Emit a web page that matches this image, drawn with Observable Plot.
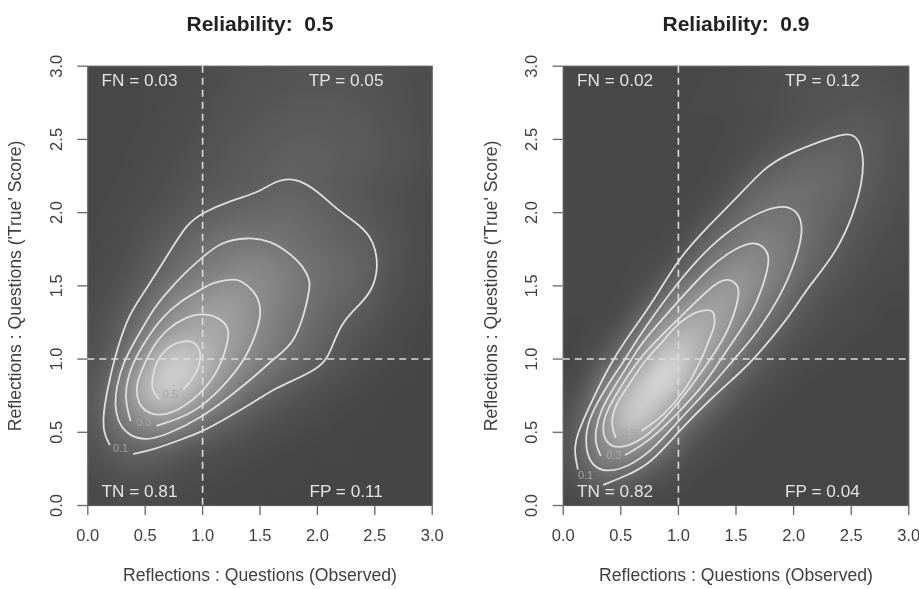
<!DOCTYPE html>
<html>
<head>
<meta charset="utf-8">
<script src="https://cdn.jsdelivr.net/npm/d3@7"></script>
<script src="https://cdn.jsdelivr.net/npm/@observablehq/plot@0.6"></script>
<style>
html,body{margin:0;padding:0;background:#fff}
#fig{position:relative;width:919px;height:589px;overflow:hidden;filter:blur(.4px)}
#fig svg{position:absolute;top:0;overflow:visible}
</style>
</head>
<body>
<div id="fig"></div>
<script>
const gridX = [0,.2,.4,.6,.8,1,1.2,1.4,1.6,1.8,2,2.2,2.4,2.6,2.8,3];
const gridY = [3,2.8,2.6,2.4,2.2,2,1.8,1.6,1.4,1.2,1,.8,.6,.4,.2,0];
const ticks = [0,.5,1,1.5,2,2.5,3];

// observed grey level at each grid node, rows from y = 3 down to y = 0
const greyLeft = [
[72,72,72,73,74,76,78,80,82,84,84,84,82,80,78,76],
[72,72,72,73,75,77,80,83,85,87,87,87,85,82,79,76],
[72,72,72,74,76,79,83,86,89,90,91,90,88,85,80,76],
[72,72,73,75,78,83,87,90,94,96,96,94,91,87,82,77],
[72,72,74,77,81,85,88,92,95,97,94,90,86,82,78,75],
[72,73,76,80,86,95,100,103,106,106,102,94,88,82,77,74],
[72,74,78,90,100,110,118,120,118,110,105,100,98,87,78,74],
[73,76,84,97,110,122,132,138,135,125,112,106,100,86,77,73],
[74,80,92,116,139,152,158,148,132,122,110,101,96,82,75,72],
[75,86,108,135,158,172,168,146,128,115,105,93,84,76,72,70],
[77,92,128,190,222,198,158,138,122,108,97,85,78,73,71,70],
[80,105,165,220,215,170,138,112,100,88,80,75,72,70,69,69],
[80,112,145,165,152,118,100,88,80,76,73,71,70,69,69,69],
[76,95,105,100,88,82,78,75,72,71,70,70,69,69,69,69],
[73,80,82,80,76,73,72,71,70,70,69,69,69,69,69,69],
[71,73,74,73,72,71,70,70,69,69,69,69,69,69,69,69]
];
const greyRight = [
[72,72,72,72,72,72,72,73,75,77,79,80,80,80,78,76],
[72,72,72,72,72,72,73,74,76,78,80,82,84,84,82,80],
[72,72,72,72,72,72,72,72,74,76,80,84,88,90,88,82],
[72,72,72,72,72,72,72,73,76,85,96,102,104,96,85,78],
[72,72,72,72,72,72,72,76,98,106,112,110,104,94,84,78],
[72,72,72,72,72,72,75,96,108,118,116,106,97,88,80,76],
[72,72,72,72,72,75,100,112,130,134,120,105,92,82,77,74],
[72,72,72,72,75,88,118,142,150,132,116,97,85,78,74,73],
[72,72,72,72,93,135,162,170,142,120,98,85,77,74,72,72],
[71,71,72,97,140,185,185,158,120,103,85,78,74,72,71,70],
[70,70,90,130,195,230,172,132,103,84,76,73,71,70,70,70],
[70,80,145,200,240,195,132,98,82,75,72,70,70,70,70,70],
[72,107,165,232,190,122,90,78,73,71,70,70,70,70,70,70],
[75,112,158,150,122,85,75,72,71,70,70,70,70,70,70,70],
[73,100,110,95,80,73,71,70,70,70,70,70,70,70,70,70],
[70,72,74,72,70,70,70,70,70,70,70,70,70,70,70,70]
];

// contours of the left panel, [observed, true]
const leftC1 = [[.401,.353],[.575,.382],[.807,.449],[1,.505],[1.214,.599],[1.446,.706],[1.649,.808],[1.823,.865],[1.998,.934],[2.085,1],[2.143,1.116],[2.215,1.252],[2.375,1.378],[2.477,1.469],[2.535,1.628],[2.491,1.81],[2.375,1.913],[2.172,2.02],[2.027,2.129],[1.882,2.209],[1.751,2.236],[1.62,2.209],[1.475,2.133],[1.243,2.083],[1,2],[.865,1.924],[.72,1.742],[.503,1.469],[.357,1.309],[.241,1.036],[.168,.786],[.131,.603],[.14,.49],[.189,.417]];
const leftC2 = [[.235,.672],[.27,.558],[.357,.478],[.502,.444],[.677,.478],[.996,.603],[1.228,.74],[1.43,.865],[1.635,1.013],[1.794,1.104],[1.896,1.332],[1.934,1.491],[1.934,1.537],[1.882,1.628],[1.765,1.719],[1.591,1.81],[1.388,1.833],[1.156,1.799],[1,1.696],[.836,1.582],[.691,1.457],[.56,1.332],[.415,1.127],[.314,.99],[.247,.808]];
const leftC3 = [[.604,.546],[.793,.592],[.996,.672],[1.228,.854],[1.359,.99],[1.432,1.104],[1.504,1.264],[1.504,1.378],[1.446,1.469],[1.33,1.537],[1.272,1.548],[1.098,1.525],[.996,1.48],[.793,1.389],[.647,1.286],[.502,1.127],[.386,.968],[.328,.808],[.334,.683],[.372,.581]];
const leftC4 = [[.43,.74],[.459,.672],[.546,.622],[.677,.615],[.836,.672],[.996,.774],[1.141,.922],[1.228,1.127],[1.228,1.218],[1.141,1.286],[.996,1.314],[.851,1.286],[.691,1.207],[.56,1.082],[.459,.911],[.421,.808]];
const leftC5 = [[.836,.797],[.909,.865],[.967,.956],[.973,1.059],[.909,1.116],[.807,1.116],[.691,1.07],[.604,.979],[.566,.877],[.566,.797],[.618,.729]];

// contours of the right panel
const rightC1 = [[.353,.143],[.556,.205],[.758,.285],[1.004,.508],[1.279,.729],[1.539,.91],[1.655,1],[1.916,1.241],[2.089,1.446],[2.176,1.537],[2.379,1.742],[2.509,1.969],[2.596,2.197],[2.61,2.379],[2.567,2.505],[2.48,2.55],[2.292,2.505],[1.916,2.391],[1.742,2.3],[1.54,2.129],[1.279,1.924],[1.004,1.69],[.816,1.44],[.671,1.27],[.425,1],[.237,.694],[.121,.49],[.093,.376],[.127,.25]];
const rightC2 = [[.194,.49],[.202,.353],[.266,.262],[.382,.228],[.555,.262],[.758,.364],[1.004,.581],[1.279,.808],[1.496,1.013],[1.655,1.15],[1.887,1.423],[2.031,1.696],[2.089,1.901],[2.031,2.015],[1.916,2.049],[1.771,2.026],[1.54,1.935],[1.279,1.776],[1.004,1.537],[.671,1.173],[.541,1.002],[.353,.785],[.237,.615]];
const rightC3 = [[.541,.346],[.758,.444],[1.004,.638],[1.221,.82],[1.38,1.013],[1.54,1.195],[1.684,1.378],[1.785,1.628],[1.785,1.719],[1.727,1.776],[1.655,1.799],[1.511,1.765],[1.279,1.639],[1.004,1.4],[.671,1.104],[.599,1.002],[.44,.808],[.324,.649],[.28,.512],[.28,.421],[.324,.342]];
const rightC4 = [[.338,.512],[.367,.444],[.425,.398],[.541,.398],[.729,.467],[1.004,.695],[1.293,1.013],[1.438,1.195],[1.539,1.446],[1.51,1.514],[1.438,1.548],[1.336,1.537],[1.004,1.275],[.671,1.025],[.498,.808],[.367,.638]];
const rightC5 = [[.685,.512],[.874,.626],[1.047,.785],[1.192,.99],[1.264,1.127],[1.313,1.241],[1.293,1.325],[1.163,1.321],[1.004,1.241],[.845,1.104],[.715,.99],[.584,.842],[.454,.672],[.425,.558],[.454,.467]];

const quadrantNames = ["FN","TP","TN","FP"];
const quadrantX = [.45,2.25,.45,2.25];
const quadrantY = [2.9,2.9,.095,.095];
const leftRates = ["0.03","0.05","0.81","0.11"];
const rightRates = ["0.02","0.12","0.82","0.04"];

const levelLabels = ["0.1","0.3","0.5"];
const leftLabelX = [.285,.488,.72], leftLabelY = [.387,.565,.758];
const rightLabelX = [.194,.44,.57], rightLabelY = [.205,.342,.49];

function panel(o){
  const cells = o.grey.flatMap((row,r)=>row.map((v,c)=>({x:gridX[c],y:gridY[r],v})));
  const quads = quadrantNames.map((n,i)=>({x:quadrantX[i],y:quadrantY[i],t:`${n} = ${o.rates[i]}`}));
  const labels = levelLabels.map((t,i)=>({t,x:o.labelX[i],y:o.labelY[i]}));
  const ink = "#3f3f3f";
  const lineOf = (pts,curve)=>Plot.line(pts,{x:d=>d[0],y:d=>d[1],curve,stroke:"#dedede",strokeWidth:1.8});
  const svg = Plot.plot({
    width:460,height:589,
    marginLeft:o.ml,marginRight:o.mr,marginTop:65.7,marginBottom:84,
    style:{fontFamily:"'Liberation Sans',Arial,sans-serif",background:"transparent",overflow:"visible"},
    x:{domain:[0,3]},y:{domain:[0,3]},
    color:{type:"linear",domain:[0,255],range:["#000","#fff"]},
    marks:[
      Plot.raster(cells,{x:"x",y:"y",fill:"v",x1:0,x2:3,y1:0,y2:3,interpolate:"barycentric",pixelSize:1,blur:12}),
      Plot.frame({stroke:"#5c5c5c",strokeWidth:1.2}),
      lineOf(o.c[0],"basis"),
      lineOf(o.c[1],"basis-closed"),
      lineOf(o.c[2],"basis"),
      lineOf(o.c[3],"basis-closed"),
      lineOf(o.c[4],"catmull-rom"),
      Plot.ruleX([1],{stroke:"#dcdcdc",strokeWidth:1.6,strokeDasharray:"7 5"}),
      Plot.ruleY([1],{stroke:"#dcdcdc",strokeWidth:1.6,strokeDasharray:"7 5"}),
      Plot.text(quads,{x:"x",y:"y",text:"t",fill:"#e2e2e2",fontSize:17.2}),
      Plot.text(labels,{x:"x",y:"y",text:"t",fill:"#a4a4a4",fontSize:11}),
      Plot.axisX({ticks,tickSize:10,tickPadding:14,stroke:"#666",strokeWidth:1.3,color:ink,fontSize:16.5,tickFormat:d3.format(".1f"),label:null}),
      Plot.axisY({ticks,tickSize:10,tickPadding:16,tickRotate:-90,stroke:"#666",strokeWidth:1.3,color:ink,fontSize:16.5,tickFormat:d3.format(".1f"),label:null}),
      Plot.text(["Reflections : Questions (Observed)"],{frameAnchor:"bottom",dy:75,fill:ink,fontSize:17.6}),
      Plot.text(["Reflections : Questions ('True' Score)"],{frameAnchor:"left",textAnchor:"middle",dx:-72,rotate:-90,fill:ink,fontSize:17.6}),
      Plot.text([o.title],{frameAnchor:"top",dy:-50,fill:"#222",fontWeight:"bold",fontSize:21})
    ]
  });
  svg.style.left = o.left+"px";
  document.getElementById("fig").appendChild(svg);
}

panel({title:"Reliability:  0.5",left:0,ml:87.3,mr:28.3,grey:greyLeft,rates:leftRates,labelX:leftLabelX,labelY:leftLabelY,c:[leftC1,leftC2,leftC3,leftC4,leftC5]});
panel({title:"Reliability:  0.9",left:459,ml:103.7,mr:10.7,grey:greyRight,rates:rightRates,labelX:rightLabelX,labelY:rightLabelY,c:[rightC1,rightC2,rightC3,rightC4,rightC5]});
</script>
</body>
</html>
